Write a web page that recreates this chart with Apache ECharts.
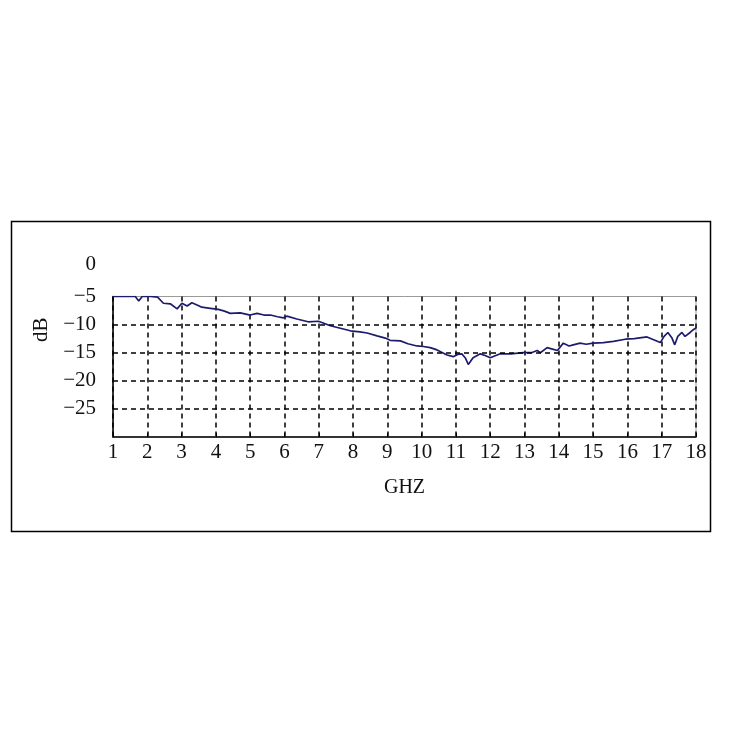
<!DOCTYPE html>
<html>
<head>
<meta charset="utf-8">
<script src="https://cdn.jsdelivr.net/npm/echarts@6/dist/echarts.min.js"></script>
<style>html,body{margin:0;padding:0;background:#fff;}#c{width:734px;height:734px;}</style>
</head>
<body>
<div id="c"></div>
<script>
// Frequency (GHz) and reflection loss (dB)
const freqGHz = [1.0, 1.5, 1.65, 1.75, 1.85, 2.1, 2.3, 2.47, 2.67, 2.87, 3.01, 3.16, 3.30, 3.45, 3.59, 3.84, 4.07, 4.25, 4.42, 4.71, 5.0, 5.2, 5.4, 5.59, 5.8, 5.97, 6.07, 6.36, 6.69, 6.99, 7.34, 7.6, 7.92, 8.2, 8.41, 8.7, 8.94, 9.08, 9.38, 9.6, 9.86, 10.05, 10.25, 10.45, 10.74, 10.92, 11.05, 11.17, 11.28, 11.36, 11.5, 11.71, 11.85, 12.0, 12.29, 12.6, 12.96, 13.2, 13.37, 13.46, 13.66, 13.84, 13.96, 14.13, 14.3, 14.42, 14.62, 14.8, 15.0, 15.3, 15.59, 15.94, 16.2, 16.57, 16.96, 17.07, 17.18, 17.3, 17.38, 17.47, 17.59, 17.68, 17.83, 17.92, 18.0];
const lossDB  = [-5.0, -5.0, -5.0, -5.8, -5.0, -5.0, -5.1, -6.2, -6.3, -7.2, -6.2, -6.7, -6.1, -6.5, -6.9, -7.1, -7.3, -7.6, -8.0, -7.9, -8.3, -8.0, -8.3, -8.3, -8.6, -8.8, -8.5, -9.0, -9.5, -9.4, -10.2, -10.6, -11.1, -11.3, -11.5, -12.0, -12.4, -12.8, -12.9, -13.4, -13.8, -13.9, -14.1, -14.5, -15.4, -15.7, -15.3, -15.2, -16.0, -17.1, -15.9, -15.2, -15.5, -15.9, -15.2, -15.2, -15.0, -15.0, -14.6, -15.0, -14.1, -14.4, -14.6, -13.3, -13.8, -13.6, -13.3, -13.5, -13.3, -13.2, -13.0, -12.6, -12.5, -12.2, -13.2, -12.1, -11.4, -12.4, -13.6, -12.1, -11.4, -12.1, -11.4, -10.9, -10.6];
const xTicks = {min: 1, max: 18, interval: 1};
const yTicks = {min: -30, max: -5, interval: 5};
const yExtraLabel = '0';
const hGridValues = [-10, -15, -20, -25];

const font = '"Liberation Serif", "DejaVu Serif", serif';
const chart = echarts.init(document.getElementById('c'), null, {renderer: 'canvas'});
const fmtMinus = v => String(v).replace('-', '\u2212');

chart.setOption({
  animation: false,
  backgroundColor: '#fff',
  grid: {left: 113, right: 38, top: 296.5, bottom: 297, show: true, borderColor: '#9a9a9a', borderWidth: 1, backgroundColor: 'transparent'},
  xAxis: {
    type: 'value', min: xTicks.min, max: xTicks.max, interval: xTicks.interval,
    name: 'GHZ', nameLocation: 'middle', nameGap: 41,
    nameTextStyle: {fontFamily: font, fontSize: 20, color: '#111'},
    axisLine: {show: true, lineStyle: {color: '#000', width: 1.5}},
    axisTick: {show: true, length: 4, inside: true, lineStyle: {color: '#000'}},
    axisLabel: {fontFamily: font, fontSize: 21, color: '#111', margin: 5},
    splitLine: {show: true, lineStyle: {color: '#000', width: 1.5, type: [5, 4]}}
  },
  yAxis: {
    type: 'value', min: yTicks.min, max: yTicks.max, interval: yTicks.interval,
    name: 'dB', nameLocation: 'middle', nameGap: 60,
    nameTextStyle: {fontFamily: font, fontSize: 21, color: '#111', padding: [0, 0, 0, 74]},
    axisLine: {show: true, lineStyle: {color: '#000', width: 1.5}},
    axisTick: {show: false},
    axisLabel: {fontFamily: font, fontSize: 21, color: '#111', margin: 17, padding: [0, 0, 8, 0],
      formatter: v => (v === yTicks.min ? '' : fmtMinus(v))},
    splitLine: {show: false}
  },
  series: [{
    type: 'line',
    data: freqGHz.map((f, i) => [f, lossDB[i]]),
    showSymbol: false,
    smooth: false,
    lineStyle: {color: '#1c1c6e', width: 1.7},
    markLine: {
      silent: true, symbol: 'none', label: {show: false},
      lineStyle: {color: '#000', width: 1.5, type: [5, 4]},
      data: hGridValues.map(v => ({yAxis: v}))
    }
  }]
});

const zeroY = chart.convertToPixel({yAxisIndex: 0}, 0);
chart.setOption({
  graphic: [
    {type: 'rect', shape: {x: 11.5, y: 221.5, width: 699, height: 310}, style: {fill: 'none', stroke: '#000', lineWidth: 1.5}, silent: true},
    {type: 'text', x: 113 - 17, y: zeroY - 4, style: {text: yExtraLabel, font: '21px ' + font, fill: '#111', textAlign: 'right', textVerticalAlign: 'middle'}}
  ]
});
</script>
</body>
</html>
